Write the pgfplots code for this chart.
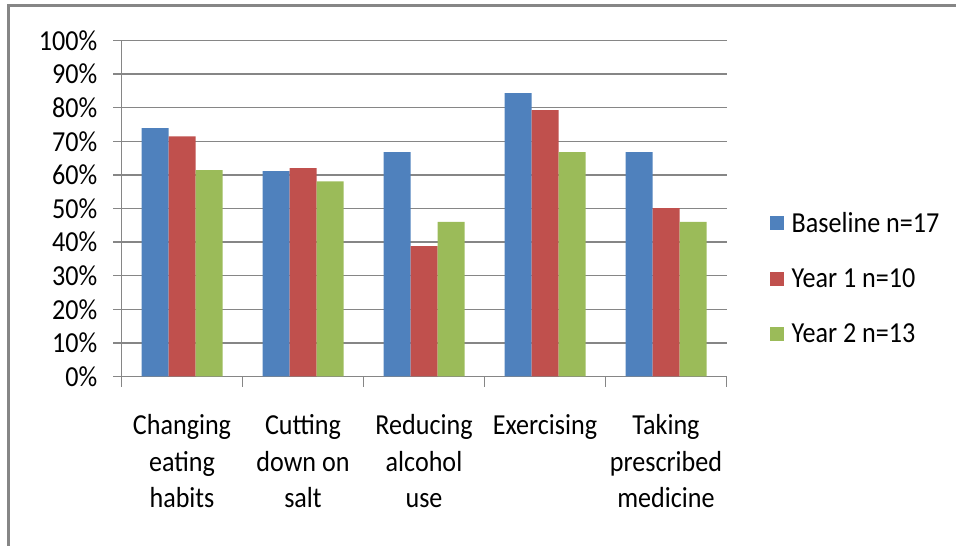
\documentclass[border=0pt]{standalone}
\usepackage{pgfplots}
\pgfplotsset{compat=1.18}
\usepackage{fontspec}
\setmainfont{Carlito}[FakeStretch=0.9]

\definecolor{cblue}{HTML}{4F81BD}
\definecolor{cred}{HTML}{C0504D}
\definecolor{cgreen}{HTML}{9BBB59}
\definecolor{cgray}{HTML}{868686}

\begin{document}
\begin{tikzpicture}[x=1pt,y=1pt]
\path[use as bounding box] (0,0) rectangle (956,546);
% outer chart frame
\draw[cgray, line width=3pt] (8.5,-5) -- (8.5,540) -- (960,540);
\begin{axis}[
  at={(121.5pt,169.5pt)}, anchor=south west,
  scale only axis, width=605pt, height=336pt,
  ybar=0pt, bar width=27pt,
  xmin=-0.5, xmax=4.5, ymin=0, ymax=100,
  axis x line*=bottom, axis y line*=left,
  axis line style={cgray, line width=1.3pt},
  ytick={0,10,...,100},
  yticklabel={\pgfmathprintnumber{\tick}\%},
  ymajorgrids, grid style={cgray, line width=1.3pt},
  xtick={0,1,2,3,4},
  xticklabels={Changing\\eating\\habits, Cutting\\down on\\salt, Reducing\\alcohol\\use, Exercising, Taking\\prescribed\\medicine},
  minor xtick={-0.5,0.5,...,4.5},
  tick align=outside,
  x tick style={draw=none},
  minor x tick style={draw=cgray, line width=1.3pt},
  minor tick length=10pt,
  y tick style={cgray, line width=1.3pt},
  major tick length=8pt,
  /pgf/number format/assume math mode=true,
  tick label style={font=\fontsize{29}{36.5}\selectfont, text=black},
  yticklabel style={anchor=east, inner sep=0pt, xshift=-16pt},
  xticklabel style={align=center, anchor=north, inner sep=0pt, yshift=-30pt},
  legend style={at={(1,0.293)}, anchor=west, xshift=43pt, draw=none,
    font=\fontsize{29}{36.5}\selectfont, row sep=35pt, inner sep=0pt,
    /tikz/every node/.append style={inner sep=0pt}},
  legend cell align=left,
  legend image code/.code={\fill[#1] (0pt,-7pt) rectangle (14pt,7pt);},
]
\addplot[fill=cblue, draw=none] coordinates {(0,73.9) (1,61.1) (2,66.8) (3,84.3) (4,66.8)};
\addplot[fill=cred, draw=none] coordinates {(0,71.5) (1,62.0) (2,38.8) (3,79.3) (4,50.1)};
\addplot[fill=cgreen, draw=none] coordinates {(0,61.4) (1,58.1) (2,46.0) (3,66.8) (4,46.0)};
\legend{\hspace{8pt}Baseline n=17, \hspace{8pt}Year 1 n=10, \hspace{8pt}Year 2 n=13}
\end{axis}
\end{tikzpicture}
\end{document}
